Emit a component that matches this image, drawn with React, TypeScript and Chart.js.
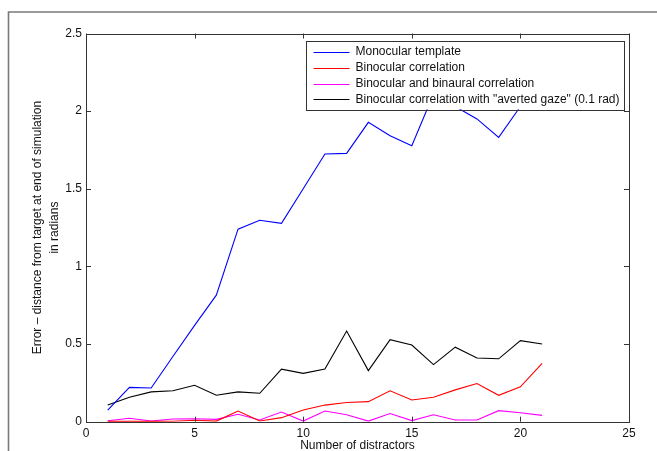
import React, { useEffect, useRef } from "react";
import { Chart, registerables } from "chart.js";

Chart.register(...registerables);

const distractors = [1, 2, 3, 4, 5, 6, 7, 8, 9, 10, 11, 12, 13, 14, 15, 16, 17, 18, 19, 20, 21];
const monocular = [0.075, 0.221, 0.217, 0.42, 0.62, 0.815, 1.24, 1.297, 1.277, 1.5, 1.724, 1.728, 1.928, 1.842, 1.777, 2.11, 2.03, 1.95, 1.831, 2.03, 2.2];
const binocular = [0.002, 0.002, 0.002, 0.003, 0.009, 0.004, 0.069, 0.005, 0.026, 0.075, 0.107, 0.124, 0.129, 0.199, 0.14, 0.157, 0.205, 0.246, 0.17, 0.225, 0.376];
const binaural = [0.006, 0.022, 0.005, 0.017, 0.019, 0.015, 0.048, 0.011, 0.062, 0.004, 0.069, 0.045, 0.004, 0.053, 0.007, 0.045, 0.011, 0.011, 0.071, 0.058, 0.041];
const averted = [0.107, 0.157, 0.192, 0.199, 0.235, 0.17, 0.192, 0.183, 0.338, 0.311, 0.339, 0.584, 0.329, 0.528, 0.494, 0.368, 0.48, 0.41, 0.405, 0.522, 0.5];

const seriesNames = [
  "Monocular template",
  "Binocular correlation",
  "Binocular and binaural correlation",
  'Binocular correlation with "averted gaze" (0.1 rad)',
];
const seriesColors = ["#0000ff", "#ff0000", "#ff00ff", "#000000"];

const xTickValues = [0, 5, 10, 15, 20, 25];
const xTickLabels = ["0", "5", "10", "15", "20", "25"];
const yTickValues = [0, 0.5, 1, 1.5, 2, 2.5];
const yTickLabels = ["0", "0.5", "1", "1.5", "2", "2.5"];

const xTitle = "Number of distractors";
const yTitle = ["Error \u2013 distance from target at end of simulation", "in radians"];

const FONT = "'Liberation Sans', Arial, Helvetica, sans-serif";

const matlabPlugin = {
  id: "matlabStyle",
  beforeDraw(chart: any) {
    const ctx = chart.ctx;
    ctx.save();
    ctx.fillStyle = "#ffffff";
    ctx.fillRect(0, 0, chart.width, chart.height);
    ctx.strokeStyle = "#7a7a7a";
    ctx.lineWidth = 1.6;
    ctx.beginPath();
    ctx.moveTo(8.5, chart.height + 2);
    ctx.lineTo(8.5, 12);
    ctx.lineTo(chart.width + 2, 12);
    ctx.stroke();
    ctx.restore();
  },
  afterDatasetsDraw(chart: any) {
    const ctx = chart.ctx;
    const a = chart.chartArea;
    const xs = chart.scales.x;
    const ys = chart.scales.y;
    ctx.save();
    // ticks inward on all four sides
    ctx.strokeStyle = "#333333";
    ctx.lineWidth = 1;
    const tl = 5;
    ctx.beginPath();
    xTickValues.forEach((v) => {
      const px = Math.round(xs.getPixelForValue(v)) + 0.5;
      ctx.moveTo(px, a.bottom);
      ctx.lineTo(px, a.bottom - tl);
      ctx.moveTo(px, a.top);
      ctx.lineTo(px, a.top + tl);
    });
    yTickValues.forEach((v) => {
      const py = Math.round(ys.getPixelForValue(v)) + 0.5;
      ctx.moveTo(a.left, py);
      ctx.lineTo(a.left + tl, py);
      ctx.moveTo(a.right, py);
      ctx.lineTo(a.right - tl, py);
    });
    ctx.stroke();
    ctx.strokeStyle = "#333333";
    ctx.strokeRect(Math.round(a.left) + 0.5, Math.round(a.top) + 0.5, Math.round(a.right - a.left), Math.round(a.bottom - a.top));

    // legend
    ctx.font = "12px " + FONT;
    let maxW = 0;
    seriesNames.forEach((n) => {
      maxW = Math.max(maxW, ctx.measureText(n).width);
    });
    const right = a.right - 5.5;
    const top = a.top + 7.2;
    const width = 8 + 36 + 6 + maxW + 4;
    const left = right - width;
    const rowH = 15.8;
    const height = 11.3 + rowH * 3 + 10;
    ctx.fillStyle = "#ffffff";
    ctx.fillRect(left, top, width, height);
    ctx.strokeStyle = "#333333";
    ctx.lineWidth = 1;
    ctx.strokeRect(Math.round(left) + 0.5, Math.round(top) + 0.5, Math.round(width), Math.round(height));
    seriesNames.forEach((n, i) => {
      const cy = top + 11.3 + i * rowH;
      ctx.strokeStyle = seriesColors[i];
      ctx.beginPath();
      ctx.moveTo(left + 8, Math.round(cy) + 0.5);
      ctx.lineTo(left + 44, Math.round(cy) + 0.5);
      ctx.stroke();
      ctx.fillStyle = "#111111";
      ctx.textAlign = "left";
      ctx.textBaseline = "middle";
      ctx.fillText(n, left + 50, cy);
    });
    ctx.restore();
  },
};

export default function App() {
  const ref = useRef<HTMLCanvasElement | null>(null);
  useEffect(() => {
    if (!ref.current) return;
    const mk = (vals: number[]) => distractors.map((x, i) => ({ x, y: vals[i] }));
    const all = [monocular, binocular, binaural, averted];
    const chart = new Chart(ref.current, {
      type: "line",
      data: {
        datasets: all.map((vals, i) => ({
          label: seriesNames[i],
          data: mk(vals),
          borderColor: seriesColors[i],
          backgroundColor: seriesColors[i],
          borderWidth: 1.1,
          pointRadius: 0,
          tension: 0,
          fill: false,
        })),
      },
      options: {
        animation: false,
        responsive: false,
        devicePixelRatio: 1,
        layout: { padding: { top: 33.5, right: 28, left: 0, bottom: 0 } },
        plugins: { legend: { display: false }, tooltip: { enabled: false } },
        scales: {
          x: {
            type: "linear",
            min: 0,
            max: 25,
            afterBuildTicks: (s: any) => {
              s.ticks = xTickValues.map((v) => ({ value: v }));
            },
            ticks: {
              color: "#111111",
              font: { family: FONT, size: 12 },
              padding: 5,
              maxRotation: 0,
              callback: (v: any) => xTickLabels[xTickValues.indexOf(Number(v))] ?? "",
            },
            grid: { display: false, drawTicks: false },
            border: { display: false },
            title: {
              display: true,
              text: xTitle,
              color: "#111111",
              font: { family: FONT, size: 12, lineHeight: 1 },
              padding: { top: 0, bottom: -1 },
            },
            afterFit: (s: any) => {
              s.height = 29.3;
            },
          },
          y: {
            type: "linear",
            min: 0,
            max: 2.5,
            afterBuildTicks: (s: any) => {
              s.ticks = yTickValues.map((v) => ({ value: v }));
            },
            ticks: {
              color: "#111111",
              font: { family: FONT, size: 12 },
              padding: 4,
              callback: (v: any) => yTickLabels[yTickValues.indexOf(Number(v))] ?? "",
            },
            grid: { display: false, drawTicks: false },
            border: { display: false },
            title: {
              display: true,
              text: yTitle,
              color: "#111111",
              font: { family: FONT, size: 12, lineHeight: "17px" },
              padding: { top: 29.5, bottom: 0 },
            },
            afterFit: (s: any) => {
              s.width = 86;
            },
          },
        },
      },
      plugins: [matlabPlugin],
    } as any);
    return () => chart.destroy();
  }, []);
  return (
    <div style={{ position: "absolute", left: 0, top: 0, width: 657, height: 451 }}>
      <canvas ref={ref} width={657} height={451} style={{ display: "block", width: 657, height: 451 }} />
    </div>
  );
}
